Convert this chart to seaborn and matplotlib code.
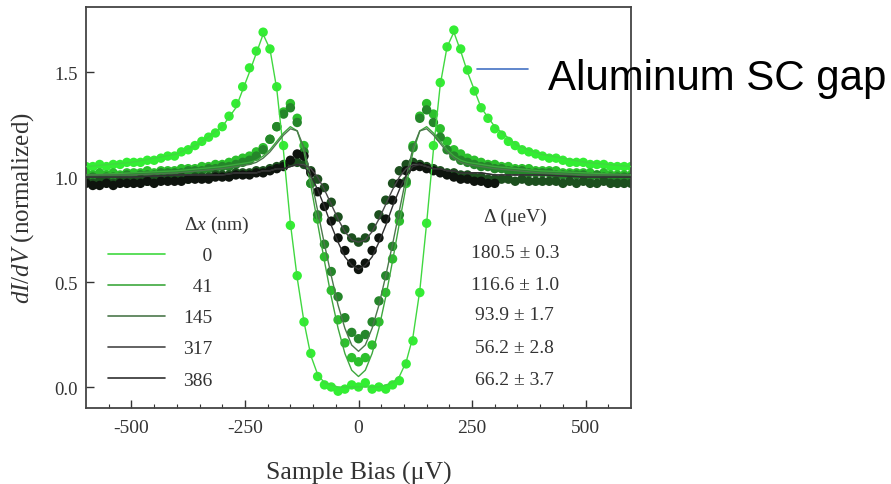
import numpy as np
import pandas as pd
import matplotlib
matplotlib.use("Agg")
import matplotlib.pyplot as plt
import seaborn as sns
from matplotlib.lines import Line2D

# ---------------- data ----------------
bias = np.arange(-600, 601, 15)  # sample bias grid (uV)

didv_0nm = [1.05, 1.05, 1.06, 1.05, 1.06, 1.06, 1.07, 1.07, 1.07, 1.08,
            1.08, 1.09, 1.10, 1.10, 1.12, 1.13, 1.15, 1.17, 1.19, 1.21,
            1.24, 1.29, 1.35, 1.43, 1.52, 1.60, 1.69, 1.61, 1.43, 1.15,
            0.77, 0.53, 0.31, 0.16, 0.05, 0.01, 0.00, -0.02, -0.01, 0.01,
            0.00,
            0.02, -0.01, 0.00, -0.01, 0.01, 0.03, 0.11, 0.22, 0.45, 0.78,
            1.15, 1.45, 1.62, 1.70, 1.61, 1.51, 1.41, 1.33, 1.28, 1.23,
            1.20, 1.17, 1.15, 1.13, 1.12, 1.11, 1.10, 1.09, 1.09, 1.08,
            1.07, 1.07, 1.07, 1.06, 1.06, 1.06, 1.05, 1.05, 1.05, 1.05]

didv_41nm = [1.02, 1.01, 1.02, 1.01, 1.02, 1.01, 1.02, 1.02, 1.02, 1.03,
             1.02, 1.03, 1.03, 1.03, 1.04, 1.04, 1.04, 1.05, 1.05, 1.06,
             1.06, 1.07, 1.08, 1.09, 1.10, 1.12, 1.14, 1.18, 1.24, 1.31,
             1.35, 1.28, 1.15, 0.97, 0.80, 0.62, 0.46, 0.32, 0.21, 0.14,
             0.12,
             0.14, 0.20, 0.31, 0.45, 0.61, 0.79, 0.97, 1.15, 1.29, 1.35,
             1.30, 1.23, 1.17, 1.13, 1.11, 1.09, 1.08, 1.07, 1.06, 1.06,
             1.05, 1.05, 1.04, 1.04, 1.04, 1.03, 1.03, 1.03, 1.03, 1.02,
             1.02, 1.02, 1.02, 1.02, 1.01, 1.02, 1.01, 1.01, 1.01, 1.01]

didv_145nm = [0.99, 1.00, 0.99, 1.00, 1.00, 1.00, 1.01, 1.00, 1.01, 1.01,
              1.01, 1.02, 1.02, 1.02, 1.02, 1.03, 1.03, 1.03, 1.04, 1.04,
              1.05, 1.05, 1.06, 1.07, 1.08, 1.10, 1.13, 1.18, 1.24, 1.30,
              1.33, 1.26, 1.12, 0.97, 0.82, 0.68, 0.55, 0.43, 0.33, 0.26,
              0.23,
              0.25, 0.31, 0.41, 0.53, 0.67, 0.82, 0.98, 1.14, 1.28, 1.32,
              1.26, 1.19, 1.13, 1.10, 1.08, 1.07, 1.06, 1.05, 1.05, 1.04,
              1.04, 1.03, 1.03, 1.03, 1.02, 1.02, 1.02, 1.02, 1.01, 1.01,
              1.01, 1.01, 1.01, 1.00, 1.01, 1.00, 1.00, 1.00, 1.00, 1.00]

didv_317nm = [0.98, 0.97, 0.98, 0.98, 0.97, 0.98, 0.98, 0.98, 0.99, 0.98,
              0.99, 0.99, 0.99, 0.99, 1.00, 0.99, 1.00, 1.00, 1.00, 1.01,
              1.01, 1.01, 1.02, 1.02, 1.02, 1.03, 1.03, 1.04, 1.05, 1.06,
              1.07, 1.07, 1.06, 1.03, 0.99, 0.95, 0.88, 0.81, 0.75, 0.71,
              0.69,
              0.71, 0.76, 0.82, 0.89, 0.97, 1.03, 1.06, 1.07, 1.06, 1.05,
              1.04, 1.03, 1.02, 1.02, 1.01, 1.01, 1.00, 1.00, 0.99, 0.99,
              0.99, 0.99, 0.98, 0.99, 0.98, 0.98, 0.98, 0.98, 0.98, 0.97,
              0.98, 0.97, 0.98, 0.97, 0.97, 0.98, 0.97, 0.97, 0.97, 0.97]

didv_386nm = [0.97, 0.96, 0.96, 0.97, 0.96, 0.97, 0.97, 0.97, 0.97, 0.98,
              0.97, 0.98, 0.98, 0.98, 0.98, 0.99, 0.99, 0.99, 0.99, 1.00,
              1.00, 1.00, 1.01, 1.01, 1.01, 1.02, 1.02, 1.03, 1.04, 1.05,
              1.08, 1.11, 1.10, 1.02, 0.93, 0.86, 0.79, 0.71, 0.65, 0.59,
              0.56,
              0.59, 0.65, 0.71, 0.80, 0.89, 0.97, 1.03, 1.05, 1.05, 1.04,
              1.03, 1.02, 1.01, 1.00, 0.99, 0.99, 0.98, 0.98, 0.97, 0.97,
              np.nan, np.nan, np.nan, np.nan, np.nan, np.nan, np.nan, np.nan, np.nan, np.nan,
              np.nan, np.nan, np.nan, np.nan, np.nan, np.nan, np.nan, np.nan, np.nan, np.nan]

fit_bias = [-600, -500, -400, -350, -300, -270, -240, -225, -210, -195,
            -180, -165, -150, -135, -120, -105, -90, -75, -60, -45,
            -30, -15, 0,
            15, 30, 45, 60, 75, 90, 105, 120, 135, 150,
            165, 180, 195, 210, 225, 240, 270, 300, 350, 400,
            500, 600]

fit_0nm = [1.05, 1.07, 1.11, 1.16, 1.24, 1.33, 1.50, 1.59, 1.68, 1.61,
           1.42, 1.12, 0.78, 0.52, 0.31, 0.15, 0.06, 0.02, 0.01, 0.00,
           0.00, 0.00, 0.00,
           0.00, 0.00, 0.00, 0.01, 0.02, 0.05, 0.12, 0.24, 0.46, 0.78,
           1.13, 1.44, 1.62, 1.69, 1.60, 1.50, 1.33, 1.24, 1.15, 1.11,
           1.07, 1.05]
fit_41nm = [1.01, 1.02, 1.03, 1.04, 1.05, 1.06, 1.07, 1.08, 1.10, 1.13,
            1.17, 1.21, 1.24, 1.22, 1.12, 0.96, 0.78, 0.60, 0.43, 0.28,
            0.16, 0.08, 0.05,
            0.08, 0.16, 0.28, 0.43, 0.60, 0.78, 0.96, 1.12, 1.22, 1.24,
            1.21, 1.17, 1.13, 1.10, 1.08, 1.07, 1.06, 1.05, 1.04, 1.03,
            1.02, 1.01]
fit_145nm = [1.01, 1.01, 1.02, 1.03, 1.04, 1.05, 1.06, 1.07, 1.09, 1.12,
             1.16, 1.20, 1.23, 1.22, 1.14, 1.00, 0.84, 0.68, 0.53, 0.39,
             0.28, 0.20, 0.17,
             0.20, 0.28, 0.39, 0.53, 0.68, 0.84, 1.00, 1.14, 1.22, 1.23,
             1.20, 1.16, 1.12, 1.09, 1.07, 1.06, 1.05, 1.04, 1.03, 1.02,
             1.01, 1.01]
fit_317nm = [1.00, 1.00, 1.01, 1.01, 1.01, 1.02, 1.02, 1.02, 1.03, 1.03,
             1.04, 1.04, 1.05, 1.06, 1.06, 1.04, 1.00, 0.94, 0.87, 0.80,
             0.74, 0.70, 0.69,
             0.70, 0.74, 0.80, 0.87, 0.94, 1.00, 1.04, 1.06, 1.06, 1.05,
             1.04, 1.04, 1.03, 1.03, 1.02, 1.02, 1.02, 1.01, 1.01, 1.01,
             1.00, 1.00]
fit_386nm = [1.00, 1.00, 1.01, 1.01, 1.01, 1.02, 1.02, 1.02, 1.03, 1.03,
             1.04, 1.04, 1.05, 1.06, 1.05, 1.01, 0.94, 0.86, 0.77, 0.69,
             0.62, 0.58, 0.56,
             0.58, 0.62, 0.69, 0.77, 0.86, 0.94, 1.01, 1.05, 1.06, 1.05,
             1.04, 1.04, 1.03, 1.03, 1.02, 1.02, 1.02, 1.01, 1.01, 1.01,
             1.00, 1.00]

dx_labels = ["0", "41", "145", "317", "386"]
gap_labels = ["180.5 \u00b1 0.3", "116.6 \u00b1 1.0", "93.9 \u00b1 1.7",
              "56.2 \u00b1 2.8", "66.2 \u00b1 3.7"]
x_ticks = [-500, -250, 0, 250, 500]
y_ticks = [0.0, 0.5, 1.0, 1.5]

# ---------------- build tables ----------------
data_series = [didv_0nm, didv_41nm, didv_145nm, didv_317nm, didv_386nm]
fit_series = [fit_0nm, fit_41nm, fit_145nm, fit_317nm, fit_386nm]

df = pd.concat([pd.DataFrame({"bias": bias, "didv": s, "dx": lab})
                for s, lab in zip(data_series, dx_labels)], ignore_index=True).dropna()
fdf = pd.concat([pd.DataFrame({"bias": fit_bias, "didv": s, "dx": lab})
                 for s, lab in zip(fit_series, dx_labels)], ignore_index=True)

data_colors = ["#33ee33", "#2cc02c", "#25862a", "#1c4f1e", "#0e140e"]
fit_colors = ["#40d840", "#3ea83e", "#4c784c", "#484848", "#303030"]

# ---------------- style ----------------
sns.set_style("ticks")
plt.rcParams["font.family"] = ["Liberation Serif", "DejaVu Serif"]
plt.rcParams["mathtext.fontset"] = "custom"
plt.rcParams["mathtext.rm"] = "Liberation Serif"
plt.rcParams["mathtext.it"] = "Liberation Serif:italic"

fig = plt.figure(figsize=(8.91, 4.85), dpi=100)
ax = fig.add_axes([86 / 891, 76 / 485, 545 / 891, 401 / 485])

sns.scatterplot(data=df, x="bias", y="didv", hue="dx", hue_order=dx_labels,
                palette=data_colors, s=46, linewidth=0, alpha=1.0,
                legend=False, ax=ax, zorder=2)
sns.lineplot(data=fdf, x="bias", y="didv", hue="dx", hue_order=dx_labels,
             palette=fit_colors, linewidth=1.0, sort=True, estimator=None,
             legend=False, ax=ax, zorder=3)

ax.set_xlim(-600, 600)
ax.set_ylim(-0.1, 1.81)
ax.set_xticks(x_ticks)
ax.set_xticklabels([str(t) for t in x_ticks])
ax.set_xticks(np.arange(-550, 600, 50), minor=True)
ax.set_yticks(y_ticks)
ax.set_yticklabels([f"{t:.1f}" for t in y_ticks])
ax.tick_params(axis="x", which="major", direction="in", length=6, width=1,
               pad=8, labelsize=14, colors="#333333")
ax.tick_params(axis="x", which="minor", direction="in", length=3, width=0.8,
               colors="#333333")
ax.tick_params(axis="y", which="major", direction="in", length=6, width=1,
               pad=6, labelsize=13.5, colors="#333333")
for sp in ax.spines.values():
    sp.set_visible(True)
    sp.set_color("#444444")
    sp.set_linewidth(1.3)

ax.set_xlabel("Sample Bias (\u03bcV)", fontsize=18.5, color="#333333", labelpad=18)
ax.set_ylabel(r"$dI/dV$ (normalized)", fontsize=18, color="#333333", labelpad=13)

# legend for distance
handles = [Line2D([0], [0], color=c, lw=1.2) for c in fit_colors]
lab_pad = ["\u2007\u20070", "\u200741", "145", "317", "386"]
leg = ax.legend(handles, lab_pad, loc="upper left", bbox_to_anchor=(0.040, 0.402),
                frameon=False, fontsize=14, handlelength=2.94, handletextpad=0.93,
                labelspacing=0.69, borderpad=0, borderaxespad=0)
for t in leg.get_texts():
    t.set_color("#333333")

ax.text(0.239, 0.459, r"$\Delta x$ (nm)", transform=ax.transAxes, ha="center",
        va="center", fontsize=14, color="#333333")
ax.text(0.787, 0.479, "\u0394 (\u03bceV)", transform=ax.transAxes, ha="center",
        va="center", fontsize=14, color="#333333")
gap_y = [0.389, 0.309, 0.232, 0.152, 0.072]
for yy, g in zip(gap_y, gap_labels):
    ax.text(0.787, yy, g, transform=ax.transAxes, ha="center", va="center",
            fontsize=14, color="#333333")

# annotation outside
fig.add_artist(Line2D([477 / 891, 528 / 891], [1 - 70 / 485, 1 - 70 / 485],
                      color="#4472c4", lw=1.2, transform=fig.transFigure))
txt = fig.text(548 / 891, 1 - 90 / 485, "Aluminum SC gap",
               family=["Liberation Sans Narrow", "Liberation Sans"],
               fontsize=30, color="black", ha="left", va="baseline")
fig.canvas.draw()
w = txt.get_window_extent().width
txt.set_fontsize(30 * 338 / w)

fig.savefig("out.png", dpi=100)
